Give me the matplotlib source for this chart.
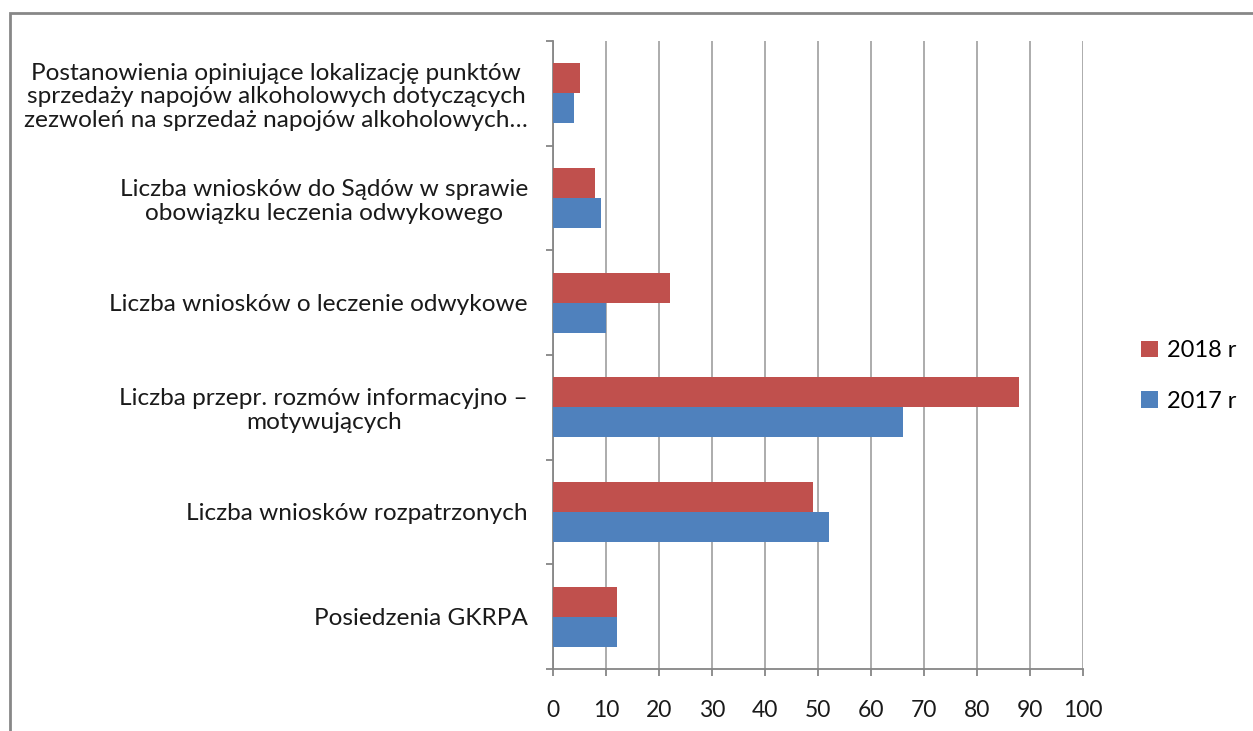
import matplotlib
matplotlib.use("Agg")
import matplotlib.pyplot as plt
from matplotlib.patches import Rectangle
import numpy as np

plt.rcParams['font.family'] = ['Lato', 'DejaVu Sans']

categories = [
    'Posiedzenia GKRPA',
    'Liczba wniosków rozpatrzonych',
    'Liczba przepr. rozmów informacyjno –\nmotywujących',
    'Liczba wniosków o leczenie odwykowe',
    'Liczba wniosków do Sądów w sprawie\nobowiązku leczenia odwykowego',
    'Postanowienia opiniujące lokalizację punktów\nsprzedaży napojów alkoholowych dotyczących\nzezwoleń na sprzedaż napojów alkoholowych…',
]
values_2017 = [12, 52, 66, 10, 9, 4]
values_2018 = [12, 49, 88, 22, 8, 5]
x_ticks = [0, 10, 20, 30, 40, 50, 60, 70, 80, 90, 100]

W, H = 1253, 731
fig = plt.figure(figsize=(W / 100, H / 100), dpi=100)
ax = fig.add_axes([553 / W, 1 - 669 / H, (1083 - 553) / W, (669 - 41) / H])

grid_c = '#A6A6A6'
spine_c = '#868686'
red = '#C0504D'
blue = '#4F81BD'

y = np.arange(len(categories))
h = 0.287
ax.barh(y - h / 2, values_2017, height=h, color=blue, label='2017 r', zorder=3)
ax.barh(y + h / 2, values_2018, height=h, color=red, label='2018 r', zorder=3)

ax.set_xlim(0, 100)
ax.set_ylim(-0.5, len(categories) - 0.5)
ax.set_xticks(x_ticks)
ax.set_xticklabels([str(t) for t in x_ticks], fontsize=16.5, color='#1a1a1a')
ax.xaxis.grid(True, color=grid_c, linewidth=1.3, zorder=0)
ax.set_axisbelow(True)

# category boundaries as major ticks, labels on minor ticks
ax.set_yticks(np.arange(-0.5, len(categories), 1.0))
ax.set_yticklabels([])
ax.set_yticks(y, minor=True)
ax.set_yticklabels(categories, minor=True, fontsize=17.6, color='#1a1a1a',
                   multialignment='center', linespacing=1.15)
ax.tick_params(axis='y', which='minor', length=0, pad=18)
ax.tick_params(axis='y', which='major', length=5, color=spine_c, width=1.3)
ax.tick_params(axis='x', length=5, color=spine_c, width=1.3, pad=17)

for s in ['top', 'right']:
    ax.spines[s].set_visible(False)
for s in ['left', 'bottom']:
    ax.spines[s].set_color(spine_c)
    ax.spines[s].set_linewidth(1.3)

handles, labels = ax.get_legend_handles_labels()
leg = fig.legend(handles[::-1], labels[::-1], loc='center left',
                 bbox_to_anchor=(1120 / W, 1 - 376 / H), frameon=False,
                 fontsize=17, handlelength=0.7, handleheight=0.7,
                 handletextpad=0.4, labelspacing=1.25)

fig.add_artist(Rectangle((10 / W, -0.1), 1.2, 1.1 - 13 / H, transform=fig.transFigure,
                         fill=False, edgecolor='#878787', linewidth=2))

fig.savefig('out.png', dpi=100)
